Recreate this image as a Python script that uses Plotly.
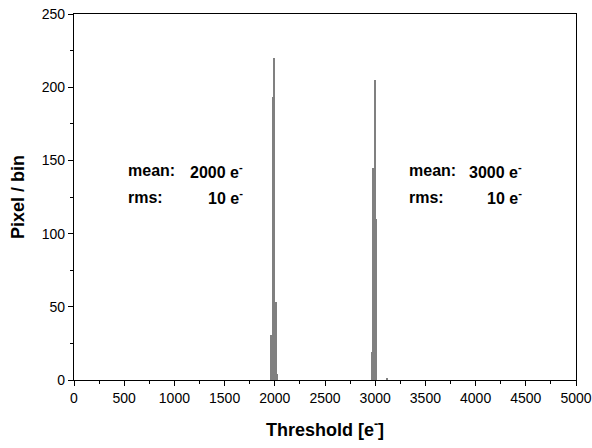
import plotly.graph_objects as go

# Histogram bins (centers, e-) and counts
bin_centers_2000 = [1967.5, 1982.5, 1997.5, 2012.5, 2027.5]
counts_2000 = [31, 193, 220, 53, 4]
bin_centers_3000 = [2967.5, 2982.5, 2997.5, 3012.5, 3117.5]
counts_3000 = [19, 145, 205, 110, 1]
bin_width = 15

x_ticks = [0, 500, 1000, 1500, 2000, 2500, 3000, 3500, 4000, 4500, 5000]
y_ticks = [0, 50, 100, 150, 200, 250]

font_family = "Liberation Sans, Arial, sans-serif"

fig = go.Figure()
fig.add_trace(go.Bar(x=bin_centers_2000 + bin_centers_3000,
                     y=counts_2000 + counts_3000,
                     width=bin_width,
                     marker=dict(color="#808080", line=dict(width=0)),
                     showlegend=False))

axis_common = dict(showline=True, linecolor="black", linewidth=1.2, mirror=True,
                   ticks="outside", ticklen=5, tickwidth=1, tickcolor="black",
                   showgrid=False, zeroline=False, automargin=False,
                   tickfont=dict(family=font_family, size=14, color="black"))

fig.update_xaxes(range=[0, 5000], tickvals=x_ticks,
                 minor=dict(ticks="outside", ticklen=3, dtick=250, tickcolor="black"),
                 title=dict(text="<b>Threshold [e<sup>-</sup>]</b>", standoff=18,
                            font=dict(family=font_family, size=18, color="black")),
                 **axis_common)
fig.update_yaxes(range=[0, 250], tickvals=y_ticks,
                 minor=dict(ticks="outside", ticklen=3, dtick=25, tickcolor="black"),
                 title=dict(text="<b>Pixel / bin</b>", standoff=12,
                            font=dict(family=font_family, size=18, color="black")),
                 **axis_common)

ann_font = dict(family=font_family, size=16, color="black")
labels = [
    (520, 143, "<b>mean:</b>", "left"),
    (1700, 143, "<b>2000 e<sup>-</sup></b>", "right"),
    (520, 125, "<b>rms:</b>", "left"),
    (1700, 125, "<b>10 e<sup>-</sup></b>", "right"),
    (3320, 143, "<b>mean:</b>", "left"),
    (4480, 143, "<b>3000 e<sup>-</sup></b>", "right"),
    (3320, 125, "<b>rms:</b>", "left"),
    (4480, 125, "<b>10 e<sup>-</sup></b>", "right"),
]
for x, y, t, anc in labels:
    fig.add_annotation(x=x, y=y, text=t, showarrow=False, xanchor=anc,
                       yanchor="middle", font=ann_font)

fig.update_layout(width=592, height=448,
                  margin=dict(l=74, r=16, t=14, b=68),
                  paper_bgcolor="white", plot_bgcolor="white",
                  bargap=0)

fig.write_html("out.html")
